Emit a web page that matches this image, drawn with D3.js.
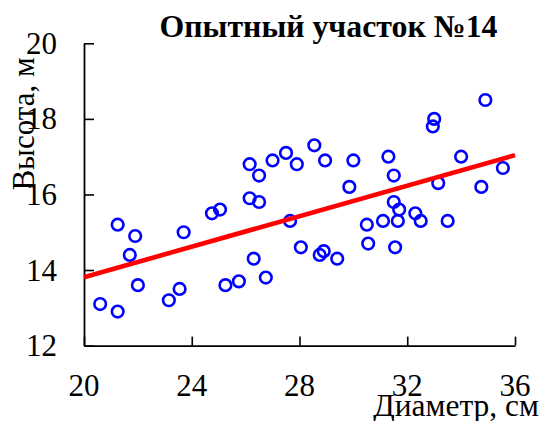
<!DOCTYPE html>
<html><head><meta charset="utf-8">
<script src="https://cdn.jsdelivr.net/npm/d3@7/dist/d3.min.js"></script>
<style>body{margin:0;background:#fff}svg{display:block}</style>
</head><body>
<svg id="c" width="543" height="421"></svg>
<script>
const title = "Опытный участок №14";
const xLabel = "Диаметр, см";
const yLabel = "Высота, м";
const xTicks = [20, 24, 28, 32, 36];
const yTicks = [12, 14, 16, 18, 20];
const diameter = [20.6, 21.25, 21.25, 21.7, 21.9, 22.0, 23.15, 23.55, 23.7, 24.75, 25.05, 25.25, 25.75, 26.15, 26.15, 26.3, 26.5, 26.5, 26.75, 27.0, 27.5, 27.65, 27.9, 28.05, 28.55, 28.75, 28.9, 28.95, 29.4, 29.85, 30.0, 30.5, 30.55, 31.1, 31.3, 31.5, 31.5, 31.55, 31.65, 31.7, 32.3, 32.5, 32.95, 33.0, 33.15, 33.5, 34.0, 34.75, 34.9, 35.55];
const height = [13.1, 12.9, 15.2, 14.4, 14.9, 13.6, 13.2, 13.5, 15.0, 15.5, 15.6, 13.6, 13.7, 16.8, 15.9, 14.3, 16.5, 15.8, 13.8, 16.9, 17.1, 15.3, 16.8, 14.6, 17.3, 14.4, 14.5, 16.9, 14.3, 16.2, 16.9, 15.2, 14.7, 15.3, 17.0, 16.5, 15.8, 14.6, 15.3, 15.6, 15.5, 15.3, 17.8, 18.0, 16.3, 15.3, 17.0, 16.2, 18.5, 16.7];
const trendX = [20, 36];
const trendY = [13.81, 17.04];

const svg = d3.select("#c");
const font = "Liberation Serif, Times New Roman, serif";
const x = d3.scaleLinear().domain([20, 36]).range([84, 515]);
const y = d3.scaleLinear().domain([12, 20]).range([345.6, 43.3]);

// axes
const gx = svg.append("g").attr("transform", `translate(0,${y(12)})`)
  .call(d3.axisBottom(x).tickValues(xTicks).tickSizeInner(-9).tickSizeOuter(0).tickPadding(0).tickFormat(d3.format("d")));
gx.selectAll("text").remove();
const gy = svg.append("g").attr("transform", `translate(${x(20)},0)`)
  .call(d3.axisLeft(y).tickValues(yTicks).tickSizeInner(-10).tickSizeOuter(0).tickFormat(d3.format("d")));
gy.selectAll("text").remove();
svg.selectAll(".domain").attr("stroke", "#000").attr("stroke-width", 1.8);
svg.selectAll(".tick line").attr("stroke", "#000").attr("stroke-width", 1.6);

// tick labels
svg.append("g").selectAll("text").data(xTicks).join("text")
  .attr("x", d => x(d)).attr("y", 396).attr("text-anchor", "middle")
  .attr("font-family", font).attr("font-size", 31).text(d => d);
svg.append("g").selectAll("text").data(yTicks).join("text")
  .attr("x", 57).attr("y", d => y(d) + 10.5).attr("text-anchor", "end")
  .attr("font-family", font).attr("font-size", 31).text(d => d);

// points
svg.append("g").selectAll("circle").data(diameter).join("circle")
  .attr("cx", d => x(d)).attr("cy", (d, i) => y(height[i])).attr("r", 5.8)
  .attr("fill", "none").attr("stroke", "#0000ff").attr("stroke-width", 2.6);

// trend line
svg.append("path").datum(trendX.map((d, i) => [d, trendY[i]]))
  .attr("d", d3.line().x(d => x(d[0])).y(d => y(d[1])))
  .attr("stroke", "#ff0000").attr("stroke-width", 4.6).attr("fill", "none");

// title & labels
svg.append("text").attr("x", 328.5).attr("y", 37).attr("text-anchor", "middle")
  .attr("font-family", font).attr("font-size", 31.8).attr("font-weight", "bold").text(title);
svg.append("text").attr("x", 539).attr("y", 416).attr("text-anchor", "end")
  .attr("font-family", font).attr("font-size", 31.5).text(xLabel);
svg.append("text").attr("transform", "translate(34,124) rotate(-90)").attr("text-anchor", "middle")
  .attr("font-family", font).attr("font-size", 31).text(yLabel);
</script>
</body></html>
